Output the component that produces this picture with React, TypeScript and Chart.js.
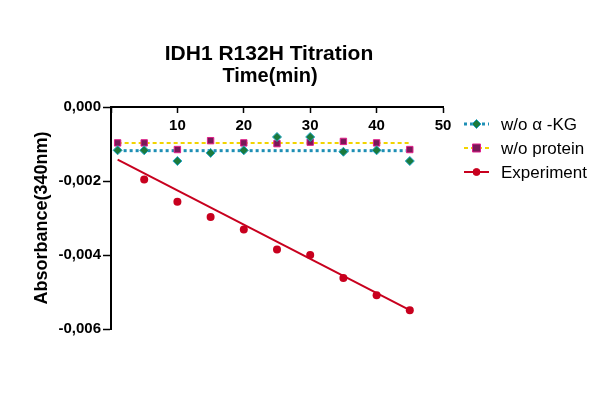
import React, { useEffect, useRef } from 'react';
import { Chart, registerables } from 'chart.js';
Chart.register(...registerables);

const TITLE = 'IDH1 R132H Titration';
const X_TITLE = 'Time(min)';
const Y_TITLE = 'Absorbance(340nm)';
const legendLabels = ['w/o α -KG', 'w/o protein', 'Experiment'];

const timeMin = [1, 5, 10, 15, 20, 25, 30, 35, 40, 45];
const woAKG = [-0.00117, -0.00117, -0.00146, -0.00124, -0.00117, -0.00081, -0.00081, -0.00121, -0.00117, -0.00146];
const woProtein = [-0.00097, -0.00097, -0.00115, -0.00091, -0.00097, -0.00099, -0.00095, -0.00093, -0.00097, -0.00115];
const expTime = [5, 10, 15, 20, 25, 30, 35, 40, 45];
const experiment = [-0.00196, -0.00256, -0.00297, -0.00331, -0.00385, -0.004, -0.00462, -0.00509, -0.00549];

const fitTime = [1, 45];
const woAKGFit = [-0.00118, -0.00118];
const woProteinFit = [-0.00097, -0.00097];
const experimentFit = [-0.00142, -0.00549];

const xMin = 0;
const xMax = 50;
const xStep = 10;
const yMin = -0.006;
const yMax = 0;
const yStep = 0.002;

const pts = (xs: number[], ys: number[]) => xs.map((x, i) => ({ x, y: ys[i] }));

const C_AKG_PT = '#1b7a3c';
const C_AKG_EDGE = '#22a6c8';
const C_AKG_LINE = '#1f8fb5';
const C_PROT_PT = '#7a1858';
const C_PROT_EDGE = '#e0208a';
const C_PROT_LINE = '#f2d400';
const C_EXP = '#c8001e';

const legendStyles = [
  { line: C_AKG_LINE, dash: [3, 3], lw: 3, shape: 'diamond', fill: C_AKG_PT, edge: C_AKG_EDGE },
  { line: C_PROT_LINE, dash: [4, 3], lw: 2, shape: 'square', fill: C_PROT_PT, edge: C_PROT_EDGE },
  { line: C_EXP, dash: [], lw: 2, shape: 'circle', fill: C_EXP, edge: C_EXP },
];

const titlePlugin = {
  id: 'customTitles',
  afterDraw(chart: any) {
    const ctx = chart.ctx;
    ctx.save();
    ctx.fillStyle = '#000';
    ctx.textAlign = 'center';
    ctx.textBaseline = 'alphabetic';
    ctx.font = 'bold 21px "Liberation Sans", Arial, sans-serif';
    ctx.fillText(TITLE, 269, 60);
    ctx.font = 'bold 20px "Liberation Sans", Arial, sans-serif';
    ctx.fillText(X_TITLE, 270, 82);

    // legend
    legendLabels.forEach((label, i) => {
      const st = legendStyles[i];
      const y = 124 + i * 24;
      ctx.beginPath();
      ctx.setLineDash(st.dash);
      ctx.strokeStyle = st.line;
      ctx.lineWidth = st.lw;
      ctx.moveTo(464, y);
      ctx.lineTo(489, y);
      ctx.stroke();
      ctx.setLineDash([]);
      ctx.fillStyle = st.fill;
      ctx.strokeStyle = st.edge;
      ctx.lineWidth = 1;
      const cx = 476.5;
      ctx.beginPath();
      if (st.shape === 'diamond') {
        ctx.moveTo(cx, y - 4.5);
        ctx.lineTo(cx + 4.5, y);
        ctx.lineTo(cx, y + 4.5);
        ctx.lineTo(cx - 4.5, y);
        ctx.closePath();
      } else if (st.shape === 'square') {
        ctx.rect(cx - 4, y - 4, 8, 8);
      } else {
        ctx.arc(cx, y, 3.5, 0, Math.PI * 2);
      }
      ctx.fill();
      ctx.stroke();
      ctx.fillStyle = '#000';
      ctx.textAlign = 'left';
      ctx.textBaseline = 'middle';
      ctx.font = '17px "Liberation Sans", Arial, sans-serif';
      ctx.fillText(label, 501, y + 1);
    });
    ctx.restore();
  },
};

export default function App() {
  const ref = useRef<HTMLCanvasElement | null>(null);
  useEffect(() => {
    document.body.style.margin = '0';
    const canvas = ref.current;
    if (!canvas) return;
    const chart = new Chart(canvas, {
      type: 'scatter',
      data: {
        datasets: [
          {
            label: 'fitAKG',
            data: pts(fitTime, woAKGFit),
            showLine: true,
            borderColor: C_AKG_LINE,
            borderWidth: 3,
            borderDash: [3, 3],
            pointRadius: 0,
            order: 5,
          },
          {
            label: 'fitProt',
            data: pts(fitTime, woProteinFit),
            showLine: true,
            borderColor: C_PROT_LINE,
            borderWidth: 2,
            borderDash: [4, 3],
            pointRadius: 0,
            order: 4,
          },
          {
            label: 'fitExp',
            data: pts(fitTime, experimentFit),
            showLine: true,
            borderColor: C_EXP,
            borderWidth: 2,
            pointRadius: 0,
            order: 3,
          },
          {
            label: legendLabels[0],
            data: pts(timeMin, woAKG),
            showLine: false,
            pointStyle: 'rectRot',
            pointRadius: 4.5,
            backgroundColor: C_AKG_PT,
            borderColor: C_AKG_EDGE,
            borderWidth: 1,
            order: 1,
          },
          {
            label: legendLabels[1],
            data: pts(timeMin, woProtein),
            showLine: false,
            pointStyle: 'rect',
            pointRadius: 4.5,
            backgroundColor: C_PROT_PT,
            borderColor: C_PROT_EDGE,
            borderWidth: 1,
            order: 2,
          },
          {
            label: legendLabels[2],
            data: pts(expTime, experiment),
            showLine: false,
            pointStyle: 'circle',
            pointRadius: 4,
            backgroundColor: C_EXP,
            borderColor: C_EXP,
            borderWidth: 0,
            order: 0,
          },
        ],
      },
      options: {
        animation: false,
        responsive: false,
        maintainAspectRatio: false,
        layout: { padding: { top: 107, right: 157, bottom: 68, left: 0 } },
        plugins: {
          legend: { display: false },
          tooltip: { enabled: false },
          title: { display: false },
        },
        scales: {
          x: {
            type: 'linear',
            min: xMin,
            max: xMax,
            position: { y: 0 } as any,
            ticks: {
              stepSize: xStep,
              color: '#000',
              font: { family: '"Liberation Sans", Arial, sans-serif', size: 15, weight: 'bold' },
              padding: 5,
              maxRotation: 0,
              callback: (v: any) => (v === 0 ? '' : String(v)),
            },
            grid: { drawOnChartArea: false, color: '#000', tickLength: 5, tickWidth: 1.5 },
            border: { color: '#000', width: 2 },
          },
          y: {
            type: 'linear',
            min: yMin,
            max: yMax,
            position: 'left',
            afterFit: (s: any) => {
              s.width = 111;
            },
            ticks: {
              stepSize: yStep,
              color: '#000',
              font: { family: '"Liberation Sans", Arial, sans-serif', size: 15, weight: 'bold' },
              padding: 2,
              callback: (v: any) => Number(v).toFixed(3).replace('.', ','),
            },
            grid: { drawOnChartArea: false, color: '#000', tickLength: 8, tickWidth: 1.5 },
            border: { color: '#000', width: 2 },
            title: {
              display: true,
              text: Y_TITLE,
              color: '#000',
              font: { family: '"Liberation Sans", Arial, sans-serif', size: 18, weight: 'bold' },
              padding: { top: 31, bottom: 0 },
            },
          },
        },
      },
      plugins: [titlePlugin],
    });
    return () => chart.destroy();
  }, []);
  return <canvas ref={ref} width={600} height={397} style={{ display: 'block' }} />;
}
